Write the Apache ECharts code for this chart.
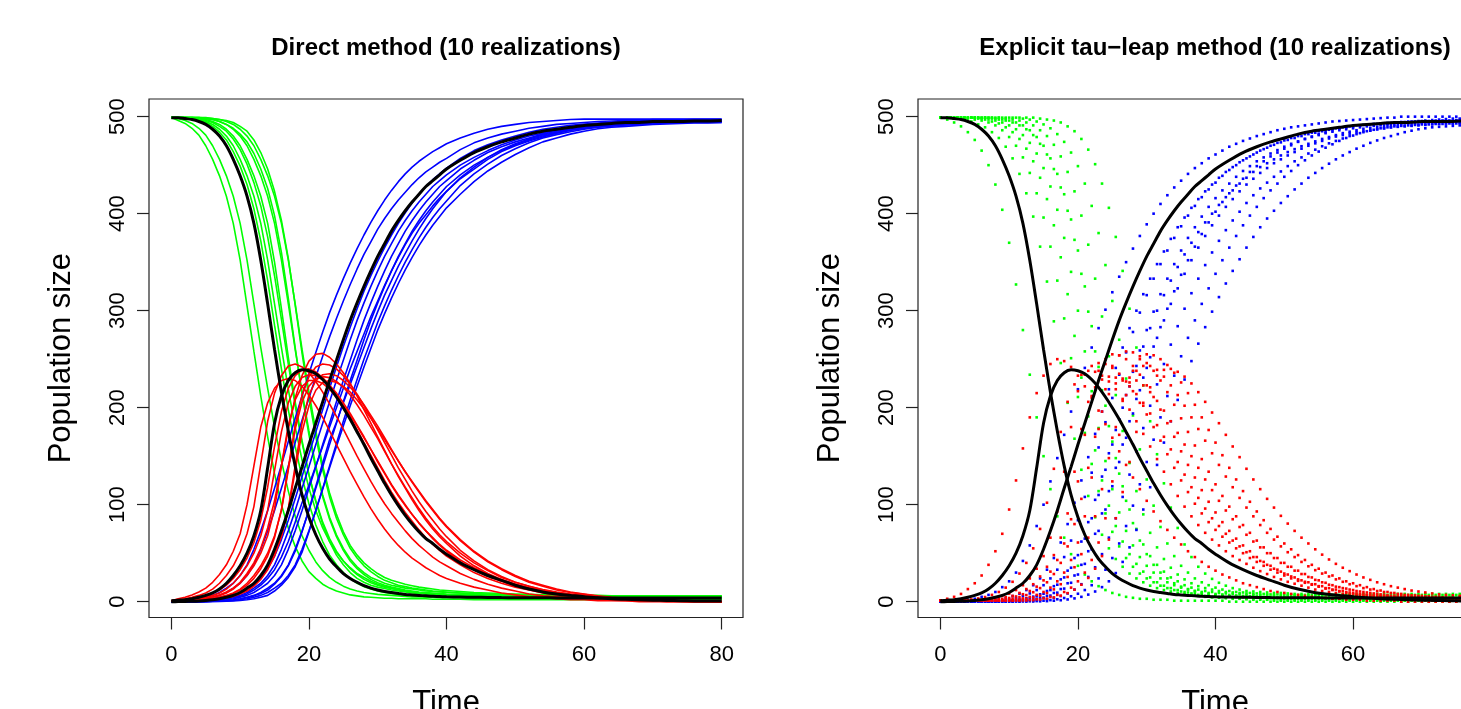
<!DOCTYPE html>
<html><head><meta charset="utf-8">
<script src="https://cdn.jsdelivr.net/npm/echarts@6/dist/echarts.min.js"></script>
<style>html,body{margin:0;padding:0;background:#fff}#c{width:1461px;height:709px}</style>
</head><body><div id="c"></div>
<script>
// ---------------- data ----------------
const xTicks = [0, 20, 40, 60, 80];
const yTicks = [0, 100, 200, 300, 400, 500];
const titles = ['Direct method (10 realizations)', 'Explicit tau\u2212leap method (10 realizations)'];

const directTimes = [0,1,2,3,4,5,6,7,8,9, 10,11,12,13,14,15,16,17,18,19, 20,21,22,23,24,25,26,27,28,29, 30,31,32,33,34,35,36,37,38,39, 40, 42,44,46,48,50,52,54,56,58,60, 62,64,66,68,70,72,74,76,78,80];

// deterministic (black) curves on directTimes
const detS = [499,499,498,497,495,492,487,480,470,456, 439,418,390,352,307,260,216,176,140,110, 87,69,55,44,36,29,24,20,16.5,14, 12,10.5,9.5,8.5,7.5,7,6.5,6,5.5,5.3, 5, 4.8,4.6,4.4,4.2,4.1,4,4,3.9,3.9,3.8, 3.8,3.8,3.7,3.7,3.7,3.7,3.7,3.7,3.7,3.7];
const detI = [1,1.5,2,3,4.5,6.5,9,13,19,27, 37,50,68,94,138,184,212,228,236,239, 238,235,229,221,211,200,188,175,162,148, 135,122,110,99,89,80,72,65,60,54, 49, 40,33,27,22,17,13,10,8,6.5,5, 4,3,2.5,2,1.6,1.3,1,0.8,0.7,0.6];
const detR = [0,0.1,0.3,0.5,0.8,1.3,2,3,4.5,6.5, 9.5,14,19,27,38,54,73,94,117,139, 162,184,206,228,249,270,290,308,325,341, 356,369,382,393,403,412,420,428,434,440, 446, 455,463,469,474,478,482,485,487,489,491, 492,493,494,494,495,495,495,495.5,495.5,496];

// direct method realizations (values on directTimes)
const directS = [
 [499,496,493,488,481,470,456,439,418,390, 352,305,258,212,170,132,100,76,57,42, 31,24,18,14,11,9,7,6,5,4.5, 4,3.5,3.5,3,3,3,3,3,2.5,2.5, 2.5, 2.5,2,2,2,2,2,2,2,2,2, 2,2,2,2,2,2,2,2,2,2],
 [499,498,496,493,488,481,470,456,439,418, 390,352,307,262,220,180,145,114,88,68, 53,41,32,25,20,16,13,11,9.5,8.5, 7.5,7,6.5,6,5.5,5,5,4.5,4.5,4, 4, 4,3.5,3.5,3.5,3,3,3,3,3,3, 3,3,3,3,3,3,3,3,3,3],
 [499,499,499,498,497,495,492,487,480,470, 456,439,418,390,352,307,262,219,180,146, 117,94,76,62,51,42,35,29,25,21, 18,16,14,12.5,11,10,9,8.5,8,7.5, 7, 6.5,6,6,5.5,5.5,5,5,5,5,5, 5,5,5,5,5,5,5,5,5,5],
 [499,499,499,499,498,497,495,492,487,480, 470,456,439,418,390,350,302,252,206,166, 131,103,80,62,48,38,30,24,20,17, 15,13.5,12,11,10,9,8.5,8,7.5,7, 6.5, 6,5.5,5,5,4.5,4.5,4.5,4,4,4, 4,4,4,4,4,4,4,4,4,4],
 [499,499,499,498.5,498,496,494,490,485,477, 466,451,432,408,376,336,291,245,202,164, 131,104,82,65,52,42,34,28,23,19.5, 17,15,13.5,12,11,10,9,8.5,8,7.5, 7, 6.5,6,5.5,5.5,5,5,5,5,4.5,4.5, 4.5,4.5,4.5,4.5,4.5,4.5,4.5,4.5,4.5,4.5],
 [499,499,499,499,499,498,497,495,492,487, 480,470,456,439,418,390,352,307,260,216, 176,140,110,87,69,55,44,36,30,25, 22,19,17,15.5,14,13,12,11,10.5,10, 9.5, 9,8,7.5,7,6.5,6,6,5.5,5.5,5.5, 5,5,5,5,5,5,5,5,5,5],
 [499,499,499,499,498.5,498,497,495,492,488, 482,474,462,446,426,398,360,313,262,214, 172,137,108,85,67,53,42,34,28,23, 19.5,17,15,13.5,12,11,10,9.5,9,8.5, 8, 7.5,7,6.5,6,6,5.5,5.5,5,5,5, 5,5,5,5,5,5,5,5,5,5],
 [499,499,499,499,499,499,498,497,495,492, 487,480,470,456,439,418,390,352,307,260, 216,176,140,112,90,72,58,48,40,34, 29,25,22,20,18,16.5,15,14,13,12, 11.5, 10.5,9.5,9,8.5,8,7.5,7,7,6.5,6.5, 6.5,6,6,6,6,6,6,6,6,6],
 [499,499,499,499,499,498.5,498,497,496,494, 490,485,476,463,446,423,393,354,306,256, 210,170,136,108,86,69,55,45,37,31, 26,22,19.5,17,15.5,14,13,12,11,10.5, 10, 9,8.5,8,7.5,7,7,6.5,6.5,6,6, 6,6,6,6,6,6,6,6,6,6],
 [499,499,498.5,498,496,494,490,484,476,464, 449,430,405,372,331,285,240,198,160,128, 101,79,62,48,38,30,24,19,15.5,13, 11,9.5,8.5,7.5,7,6.5,6,5.5,5,5, 4.5, 4.5,4,4,4,3.5,3.5,3.5,3.5,3,3, 3,3,3,3,3,3,3,3,3,3]
];
const directI = [
 [1,3,4.5,7,10,14,20,28,38,52, 70,100,140,180,205,220,228,230,228,222, 213,202,190,176,162,148,134,121,108,96, 85,75,66,58,51,45,40,35,31,27, 24, 19,15,12,9,7,5,4,3,2,2, 1,1,1,0,0,0,0,0,0,0],
 [1,2,3,4.5,6.5,9,13,19,27,37, 51,70,98,142,186,215,233,243,245,242, 236,227,216,204,191,178,164,150,137,124, 112,101,91,82,73,65,58,52,46,41, 37, 29,23,18,14,11,8,6,5,4,3, 2,1.5,1,1,1,0,0,0,0,0],
 [1,1,1.5,2,3,4.5,6.5,9,13,19, 27,37,50,68,94,135,175,205,222,231, 234,233,229,223,215,205,194,182,170,157, 144,132,120,109,99,90,81,73,66,59, 53, 43,35,28,22,18,14,11,8.5,6.5,5, 4,3,2,1.5,1,1,0.5,0,0,0],
 [1,1,1,1.5,2,3,4.5,6.5,9,13, 19,27,37,50,68,96,140,182,208,222, 228,228,225,219,211,202,192,181,169,157, 145,133,121,110,100,90,81,73,65,58, 52, 41,33,26,21,16,13,10,8,6,4.5, 3.5,2.5,2,1.5,1,1,0.5,0,0,0],
 [1,1,1.5,2,2.5,3.5,5,7,10,14, 20,29,40,55,76,104,140,178,210,233, 248,255,256,252,245,236,225,212,198,184, 170,156,142,129,117,105,94,84,75,67, 60, 47,37,29,23,18,14,11,8.5,6.5,5, 4,3,2,1.5,1,1,0.5,0.5,0,0],
 [1,1,1,1,1.5,2,3,4.5,6.5,9, 13,19,27,37,50,68,94,136,178,206, 222,230,232,231,227,221,213,203,192,180, 168,155,142,130,118,107,96,86,77,69, 62, 50,40,32,25,20,16,12,9.5,7.5,6, 4.5,3.5,2.5,2,1.5,1,1,0.5,0.5,0],
 [1,1,1,1.5,2,2.5,3,4.5,6,8.5, 12,17,24,34,47,66,95,138,182,213, 232,242,245,244,240,233,224,214,202,190, 177,164,151,138,126,114,103,93,84,75, 67, 53,42,33,26,20,16,12.5,10,8,6, 4.5,3.5,2.5,2,1.5,1,1,0.5,0.5,0],
 [1,1,1,1,1,1.5,2,3,4.5,6.5, 9,13,19,27,37,50,68,94,135,175, 202,218,226,228,226,222,216,208,199,189, 178,167,156,145,134,124,114,104,95,86, 78, 64,52,42,34,27,21,17,13,10,8, 6,4.5,3.5,2.5,2,1.5,1,1,0.5,0.5],
 [1,1,1,1,1.5,2,2.5,3,4,5.5, 8,11,16,23,33,47,67,96,140,184, 213,228,234,235,233,228,221,213,203,192, 181,169,157,145,134,123,113,103,94,85, 77, 63,51,41,33,26,20,16,12,9.5,7.5, 5.5,4,3,2.5,2,1.5,1,1,0.5,0.5],
 [1,1.5,2,3,4,6,8.5,12,17,24, 33,45,61,84,118,160,196,220,233,239, 240,237,231,223,213,202,190,177,164,151, 138,125,113,102,92,83,74,66,59,53, 47, 38,30,24,19,15,12,9,7,5.5,4, 3,2.5,2,1.5,1,1,0.5,0,0,0]
];
const directR = [
 [0,0.5,1.3,2,3,4.5,6.5,9.5,14,19, 27,38,54,73,94,117,141,165,189,212, 235,257,278,298,316,333,349,364,378,391, 403,414,424,433,441,448,454,459,464,468, 472, 478,483,487,490,492,494,495,496,497,497.5, 497.5,497.5,497.5,497.5,497.5,497.5,497.5,497.5,497.5,497.5],
 [0,0.3,0.8,1.3,2,3,4.5,6.5,9.5,14, 19,27,38,54,73,94,117,140,164,187, 210,232,253,273,292,310,327,343,358,371, 384,395,405,414,422,430,437,443,448,453, 457, 466,473,478,482,485,488,490,492,493,494, 495,495.5,496,496,497,497,497,497,497,497],
 [0,0,0.1,0.3,0.5,0.8,1.3,2,3,4.5, 6.5,9.5,14,19,27,38,54,73,94,117, 139,162,184,206,228,249,270,290,308,325, 341,356,369,382,393,403,412,420,428,434, 440, 450,458,465,471,476,480,483,486,488,490, 491,492,493,493.5,494,494.5,495,495,495,495],
 [0,0,0,0.1,0.3,0.5,0.8,1.3,2,3, 4.5,6.5,9.5,14,19,27,38,54,73,94, 117,139,162,184,206,228,249,270,290,308, 325,341,356,369,382,393,403,412,420,428, 434, 446,455,463,469,474,478,482,485,487,489, 491,492,493,494,494.5,495,495.5,496,496,496],
 [0,0,0,0.2,0.4,0.6,1,1.6,2.5,4, 5.5,8,12,17,24,33,46,62,82,102, 120,140,160,180,200,220,240,258,276,294, 310,326,341,355,368,380,390,399,408,416, 423, 436,446,456,464,470,475,479,483,486,488, 490,491,492.5,493.5,494,494.5,495,495,495.5,495.5],
 [0,0,0,0,0.1,0.3,0.5,0.8,1.3,2, 3,4.5,6.5,9.5,14,19,27,38,54,73, 94,117,139,162,184,206,228,249,270,290, 308,325,341,356,369,382,393,403,412,420, 428, 440,450,458,465,471,476,480,483,486,488, 489.5,490.5,491.5,492.5,493,493.5,494,494.5,494.5,495],
 [0,0,0,0,0.1,0.3,0.5,0.8,1.2,1.8, 2.7,4,6,8.5,12,18,26,37,52,72, 95,119,143,167,185,205,224,243,262,281, 299,316,331,346,359,372,384,395,405,414, 423, 437,448,458,466,472,477,481,484,487,489, 490.5,491.5,492.5,493,493.5,494,494.5,495,495,495],
 [0,0,0,0,0,0.1,0.3,0.5,0.8,1.3, 2,3,4.5,6.5,9.5,14,19,27,38,54, 73,94,116,138,160,181,202,222,242,261, 280,297,313,328,342,355,367,378,388,397, 406, 420,433,444,453,461,468,474,478,482,485, 487.5,489,490,491,492,492.5,493,493.5,493.5,494],
 [0,0,0,0,0,0.1,0.2,0.3,0.5,0.8, 1.2,2,3,4.5,6.5,11,17,25,36,51, 72,94,117,140,163,186,208,229,250,269, 288,305,321,336,350,363,375,386,396,405, 413, 429,441,451,460,467,473,478,481.5,484.5,487, 489,490.5,491.5,492.5,493,493.5,494,494,494,494],
 [0,0.1,0.2,0.4,0.7,1.1,1.7,2.6,4,6, 8.5,12,17,24,34,47,64,84,106,129, 152,175,198,220,242,263,283,302,320,336, 351,365,378,390,401,411,420,428,435,441, 447, 457,465,471,476,480,484,487,489,491,492.5, 493.5,494.5,495,495.5,496,496,496.5,497,497,497]
];

// explicit tau-leap realizations: two time grids (realizations alternate)
const tauTimesA = [0,1,2,3,4,5,6,7,8,9, 10,11,12,13,14,15,16,17,18,19, 20,21,22,23,24,25,26,27,28,29, 30,31,32,33,34,35,36,37,38,39, 40,41,42,43,44,45,46,47,48,49, 50,51,52,53,54,55,56,57,58,59, 60,61,62,63,64,65,66,67,68,69, 70,71,72,73,74,75,76,77,78,79, 80];
const tauTimesB = [0,1.5,2.5,3.5,4.5,5.5,6.5,7.5,8.5,9.5, 10.5,11.5,12.5,13.5,14.5,15.5,16.5,17.5,18.5,19.5, 20.5,21.5,22.5,23.5,24.5,25.5,26.5,27.5,28.5,29.5, 30.5,31.5,32.5,33.5,34.5,35.5,36.5,37.5,38.5,39.5, 40.5,41.5,42.5,43.5,44.5,45.5,46.5,47.5,48.5,49.5, 50.5,51.5,52.5,53.5,54.5,55.5,56.5,57.5,58.5,59.5, 60.5,61.5,62.5,63.5,64.5,65.5,66.5,67.5,68.5,69.5, 70.5,71.5,72.5,73.5,74.5,75.5,76.5,77.5,78.5,79.5, 80.5];

const tauS = [
 [499,497,494,490,484,476,465,450,430,404, 370,327,280,234,190,150,116,88,66,49, 37,28,21,16,12,9,7,5,4,3, 3,2,2,2,1,1,1,1,1,1, 1,1,0,0,0,0,0,0,0,0, 0,0,0,0,0,0,0,0,0,0, 0,0,0,0,0,0,0,0,0,0, 0,0,0,0,0,0,0,0,0,0, 0],
 [499,499,498,497,495,492,489,484,478,469, 457,441,421,397,366,330,289,246,205,168, 136,109,87,69,55,44,36,29,24,20, 16.5,14,12,10.5,9,8,7,6,5,4.5, 4,3.5,3,3,2.5,2,2,2,1,1, 1,1,1,1,1,1,1,1,1,1, 1,1,1,1,1,1,1,1,1,1, 1,1,1,1,1,1,1,1,1,1, 1],
 [499,499,499,499,498,497,496,494,491,486, 479,470,458,442,421,396,366,331,292,251, 211,174,142,114,91,72,57,45,36,29, 24,20,16.5,14,12,10.5,9.5,8.5,7.5,7, 6.5,6,5.5,5.3,5,4.8,4.6,4.4,4.2,4, 4,4,4,4,4,4,3,3,3,3, 3,3,3,3,3,3,3,3,3,3, 3,3,3,3,3,3,3,3,3,3, 3],
 [499,499,499,499,499,498,497,495,493,489, 484,477,467,454,437,415,388,355,317,274, 231,191,156,125,99,78,62,49,39,31, 25,20,16.5,14,12,10,8.5,7,6,5, 5,4.5,4,3.5,3,3,3,2.5,2.5,2, 2,2,2,2,2,2,2,2,2,2, 2,2,2,2,2,2,2,2,2,2, 2,2,2,2,2,2,2,2,2,2, 2],
 [499,499,499,499,499,499,498,497,496,494, 491,487,481,473,462,447,428,404,375,340, 300,258,217,179,145,116,92,73,58,46, 37,30,24,20,17,14.5,12.5,11,10,9, 8,7.5,7,6.5,6,5.5,5.5,5,5,4.5, 4.5,4.5,4.5,4.5,4.5,4.5,4,4,4,4, 4,4,4,4,4,4,4,4,4,4, 4,4,4,4,4,4,4,4,4,4, 4],
 [499,499,499,499,499,499,499,498,497,496, 494,491,487,481,472,461,446,427,403,373, 338,299,258,218,181,148,119,95,75,59, 47,38,31,25,21,17,14.5,12.5,11,10, 9,8.5,8,7.5,7,7,6.5,6.5,6,6, 5.5,5.5,5.5,5.5,5.5,5.5,5.5,5.5,5.5,5.5, 5.5,5,5,5,5,5,5,5,5,5, 5,5,5,5,5,5,5,5,5,5, 5],
 [499,499,499,499,499,499,499,499,498,497, 496,494,491,486,479,470,457,441,420,394, 362,325,284,242,202,165,132,104,81,63, 49,38,30,24,19,15.5,13,11,9,8, 7,6,5.5,5,4.5,4.5,4,4,3.5,3.5, 3,3,3,3,3,3,3,3,3,3, 3,3,3,3,3,3,3,3,3,3, 3,3,3,3,3,3,3,3,3,3, 3],
 [499,499,499,499,499,499,499,499,499,498, 497,496,494,491,486,480,471,459,443,423, 398,368,333,294,253,213,176,143,114,90, 71,56,44,35,28,23,19,16,14,12.5, 11,10,9.5,9,8.5,8,7.5,7.5,7,7, 6.5,6.5,6.5,6.5,6.5,6.5,6.5,6.5,6.5,6.5, 6.5,6,6,6,6,6,6,6,6,6, 6,6,6,6,6,6,6,6,6,6, 6],
 [499,499,499,499,499,499,499,499,499,499, 499,499,498,497,495,492,488,482,474,463, 449,431,408,380,347,310,270,230,192,157, 126,99,77,60,47,37,30,24,20,17, 14.5,12.5,11,10,9.5,9,8.5,8,7.5,7.5, 7,7,7,7,7,7,7,7,7,7, 7,7,7,7,7,7,7,7,7,7, 7,7,7,7,7,7,7,7,7,7, 7],
 [499,499,499,499,499,499,499,499,499,499, 499,499,499,499,498,497,496,494,490,485, 477,466,451,431,406,376,341,302,262,223, 186,152,122,97,76,59,46,36,29,23.5, 19.5,16.5,14,12.5,11,10.5,10,9.5,9,9, 8.5,8,8,8,8,8,8,8,8,8, 8,8,8,8,8,8,8,8,8,8, 8,8,8,8,8,8,8,8,8,8, 8]
];
const tauI = [
 [1,3,5,8,13,19,27,38,52,70, 95,125,158,190,215,233,245,250,248,242, 233,222,210,197,183,169,155,141,128,116, 104,93,83,74,66,59,52,46,41,36, 32,28,25,22,19,17,15,13,11,10, 9,8,7,6,5,4,4,3,3,2, 2,2,1,1,1,1,1,0,0,0, 0,0,0,0,0,0,0,0,0,0, 0],
 [1,1,1.2,1.6,2.3,3.3,4.8,7,10,14.5, 20.5,29,40,55,75,102,137,175,206,224, 234,238,237,233,227,219,209,198,186,173, 160,147,134,121,109,98,88,79,71,64, 58,52,47,43,39,35,31.5,28.5,25.5,23, 20.5,18.5,16.5,14.5,12.5,11,10,9,8,7, 6.5,5.5,5,4.5,4,3.5,3,2.5,2,2, 1.5,1.5,1,1,1,1,0.5,0.5,0,0, 0],
 [1,1,1,1,1.1,1.4,2,2.8,4,5.8, 8.3,12,17,24,34,47,66,93,134,180, 217,234,243,246,245,241,235,227,217,205, 193,180,166,152,138,125,113,101,91,82, 74,67,61,55,50,45,41,37,33,30, 27,24,21.5,19.5,17.5,15.5,13.5,12,10.5,9, 8,7,6.5,6,5.5,5,4.5,4,3.5,3, 2.5,2.5,2,2,1.5,1.5,1,1,1,1, 0.5],
 [1,1,1,1,1,1,1.5,2,3,4.5, 6,9,13,18,26,36,48,66,91,134, 178,206,221,229,232,231,228,222,214,205, 194,182,170,157,144,131,118,107,96,86, 78,70,63,57,51,46,42,38,34,31, 28,25,22,20,18,16,14,12.5,11,9.5, 8.5,7.5,6.5,6,5.5,5,4.5,4,3.5,3, 2.5,2,2,1.5,1.5,1,1,1,0.5,0.5, 0.5],
 [1,1,1,1,1,1,1.1,1.4,1.9,2.7, 3.8,5.4,7.7,11,15.5,22,31,43,60,85, 124,172,212,238,250,255,254,250,243,234, 223,211,198,184,170,155,141,128,115,103, 92,82,73,65,58,52,46,41,37,33, 29,26,23,20.5,18,16,14,12.5,11,10, 9,8,7,6,5.5,5,4.5,4,3.5,3, 2.5,2.5,2,2,1.5,1.5,1,1,1,1, 0.5],
 [1,1,1,1,1,1,1,1.2,1.6,2.2, 3.2,4.7,6.8,9.8,14,20,28.5,40,57,80, 106,138,170,196,214,225,230,231,228,223, 216,207,197,186,174,162,150,138,126,115, 104,94,85,77,69,62,56,50,45,40, 36,32,28.5,25.5,22.5,20,17.5,15.5,14,12.5, 11,10,9,8,7,6,5.5,5,4.5,4, 3.5,3,2.5,2.5,2,2,1.5,1.5,1,1, 1],
 [1,1,1,1,1,1,1,1,1.1,1.3, 1.7,2.4,3.4,4.9,7,10,14.5,21,30,43, 61,88,128,178,219,243,254,258,257,253, 246,238,228,216,203,189,175,161,147,134, 121,109,98,88,79,71,63,56,50,45, 40,36,32,28.5,25,22,19.5,17,15,13.5, 12,10.5,9.5,8.5,7.5,6.5,6,5.5,5,4.5, 4,3.5,3,3,2.5,2.5,2,2,1.5,1.5, 1],
 [1,1,1,1,1,1,1,1,1,1.2, 1.5,2.1,3,4.3,6.2,8.9,12.7,18,25.5,35.5, 49,66,88,116,148,180,207,226,238,243, 243,239,232,223,213,202,190,178,166,153, 141,129,118,107,97,88,79,71,64,57, 51,46,41,36.5,32.5,29,26,23,20.5,18, 16,14,12.5,11,10,9,8,7,6.5,6, 5.5,5,4.5,4,3.5,3,2.5,2.5,2,2, 1.5],
 [1,1,1,1,1,1,1,1,1,1, 1,1.1,1.3,1.7,2.4,3.4,4.9,7,10,14.5, 21,30,43,61,86,124,172,213,238,250, 255,254,250,244,236,226,215,203,190,177, 164,151,138,126,114,103,93,84,75,67, 60,54,48,43,38,34,30,27,24,21, 19,17,15,13,11.5,10,9,8,7,6.5, 6,5.5,5,4.5,4,3.5,3,3,2.5,2.5, 2],
 [1,1,1,1,1,1,1,1,1,1, 1,1,1.2,1.6,2.2,3.1,4.4,6.2,8.8,12.4, 17.5,24.5,34,47,64,86,113,144,175,202, 221,233,239,240,237,232,225,216,206,195, 184,172,160,149,137,126,116,106,97,88.5, 80.5,73,66,60,54,48.5,43.5,39,35,31.5, 28,25,22.5,20,18,16,14.5,13,11.5,10.5, 9.5,8.5,7.5,7,6.5,6,5.5,5,4.5,4, 3.5]
];
const tauR = [
 [0,0.2,0.5,1,2,3,5,7,10,15, 21,30,42,58,78,100,124,148,172,196, 219,241,262,282,301,319,335,350,364,377, 389,400,410,419,427,434,441,447,452,457, 461,465,469,472,475,477.5,480,482,484,486, 487.5,489,490,491,492,493,494,495,495.5,496, 496.5,497,497.5,498,498.5,499,499,500,500,500, 500,500,500,500,500,500,500,500,500,500, 500],
 [0,0,0,0.2,0.4,0.7,1.1,1.7,2.6,3.9, 5.7,8.2,12,17,24,33,45,61,80,102, 125,149,173,196,219,241,262,282,300,317, 333,348,361,374,386,396,406,415,423,430, 437,443,448,453,457,461,465,468,471,473.5, 476,478,480,482,483.5,485,486.5,488,489,490, 491,491.5,492,492.5,493,493.5,494,494.5,495,495.5, 496,496.5,497,497.5,498,498,498.5,498.5,499,499, 499],
 [0,0,0,0,0.1,0.2,0.4,0.7,1.1,1.7, 2.6,3.9,5.8,8.5,12,17,24,33,46,63, 84,108,133,159,185,210,234,257,278,298, 316,333,348,362,375,387,398,408,417,425, 432,439,445,450,455,459,463,466.5,470,473, 475.5,478,480,482,483.5,485,486.5,487.5,488.5,489.5, 490.5,491,491.5,492,492.5,493,493.5,494,494,494.5, 494.5,495,495,495.5,495.5,496,496,496,496.5,496.5, 496.5],
 [0,0,0,0,0,0.1,0.2,0.4,0.6,1, 1.5,2.3,3.5,5.2,7.6,11,16,23,32,45, 62,82,105,129,153,177,200,222,243,263, 282,300,316,331,345,358,370,381,391,400, 409,417,424,431,437,443,448,452,456,460, 463.5,466.5,469.5,472,474.5,477,479,481,483,484.5, 486,487.5,488.5,489.5,490.5,491.5,492.5,493,493.5,494, 494.5,495,495.5,496,496,496.5,496.5,497,497,497.5, 497.5],
 [0,0,0,0,0,0,0.1,0.2,0.4,0.6, 1,1.6,2.5,3.8,5.6,8.2,12,17.5,25,35, 48,65,86,110,136,162,188,213,237,259, 280,299,317,333,348,362,375,386,397,407, 416,424,431,438,444,449,454,458,462,465.5, 469,472,474.5,477,479,481,483,484.5,486,487, 488,489,490,490.5,491,491.5,492,492.5,493,493, 493.5,494,494,494.5,494.5,495,495,495,495.5,495.5, 495.5],
 [0,0,0,0,0,0,0,0.1,0.2,0.4, 0.7,1.1,1.7,2.6,4,6,9,13,19,27, 38,52,70,91,114,138,162,186,209,231, 252,272,290,307,323,338,352,365,377,388, 398,407,415,423,430,436,442,447,452,456, 460,463.5,467,470,472.5,475,477.5,479.5,481,482.5, 484,485,486,487,488,489,489.5,490,490.5,491, 491.5,492,492.5,493,493,493.5,493.5,494,494,494, 494],
 [0,0,0,0,0,0,0,0,0.1,0.2, 0.4,0.7,1.1,1.8,2.8,4.2,6.3,9.3,13.5,19.5, 28,39,54,73,95,119,144,169,194,218, 241,263,283,302,320,337,352,366,379,391, 402,412,421,429,436,443,449,454,459,463, 467,470.5,474,477,479.5,482,484,486,487.5,489, 490,491,492,492.5,493,493.5,494,494.5,495,495, 495.5,495.5,496,496,496,496.5,496.5,496.5,496.5,496.5, 496.5],
 [0,0,0,0,0,0,0,0,0,0.1, 0.2,0.4,0.7,1.1,1.7,2.6,3.9,5.8,8.5,12.5, 18,25.5,35.5,49,66,86,108,131,155,179, 202,224,245,265,284,302,318,333,347,360, 372,383,393,402,411,419,426,432,438,443.5, 449,454,458,462,466,469.5,472.5,475,477.5,480, 482,484,485.5,487,488,489,490,490.5,491,491.5, 492,492.5,492.5,493,493,493.5,493.5,494,494,494, 494],
 [0,0,0,0,0,0,0,0,0,0, 0,0.1,0.2,0.4,0.6,1,1.6,2.5,3.8,5.6, 8.2,12,17,24,33,45,60,78,99,121, 144,167,190,212,233,253,272,290,307,323, 338,352,365,377,388,398,407,416,424,431, 438,444,450,455,460,464,468,471.5,475,478, 480.5,483,485,486.5,488,489,490,490.5,491,491.5, 492,492,492.5,492.5,493,493,493,493,493,493, 493],
 [0,0,0,0,0,0,0,0,0,0, 0,0,0.1,0.2,0.4,0.6,1,1.5,2.3,3.4, 5,7.3,10.5,15,21,29.5,41,56,74,95, 118,141,164,186,208,229,248,266,283,299, 314,328,341,353,365,376,386,395,403,411, 418,425,431,437,442,447,451.5,456,460,463.5, 467,470,473,475.5,478,480,482,484,485.5,487, 488,489,489.5,490,490.5,491,491,491.5,491.5,492, 492]
];

// ---------------- chart ----------------
const FONT = '"Liberation Sans", Arial, Helvetica, sans-serif';
const GREEN = '#00ff00', RED = '#ff0000', BLUE = '#0000ff', BLACK = '#000000';
const problems = [];
function pairs(times, vals, name) {
  if (times.length !== vals.length) problems.push(name + ' ' + vals.length + '/' + times.length);
  return times.map((t, i) => [t, vals[i]]);
}

const grids = [
  {left: 149, top: 99, width: 594, height: 518.5},
  {left: 918, top: 99, width: 594, height: 518.5}
].map(g => Object.assign(g, {show: true, borderColor: '#222', borderWidth: 1.2, backgroundColor: 'transparent', containLabel: false, outerBoundsMode: 'none'}));

function xAxisCfg(gi) {
  return {type: 'value', gridIndex: gi, min: -3.25, max: 83.1, position: 'bottom',
    axisLine: {show: false, onZero: false},
    axisTick: {show: true, inside: false, length: 12, customValues: xTicks, lineStyle: {color: '#222', width: 1.2}},
    axisLabel: {show: true, customValues: xTicks, margin: 26, fontSize: 22, color: '#000', fontFamily: FONT},
    splitLine: {show: false},
    name: 'Time', nameLocation: 'middle', nameGap: 70,
    nameTextStyle: {fontSize: 31, color: '#000', fontFamily: FONT}};
}
function yAxisCfg(gi) {
  return {type: 'value', gridIndex: gi, min: -16.3, max: 518.2, position: 'left',
    axisLine: {show: false, onZero: false},
    axisTick: {show: true, inside: false, length: 12, customValues: yTicks, lineStyle: {color: '#222', width: 1.2}},
    axisLabel: {show: true, customValues: yTicks, rotate: 90, margin: 20, fontSize: 22, color: '#000', fontFamily: FONT},
    splitLine: {show: false},
    name: 'Population size', nameLocation: 'middle', nameGap: 72, nameRotate: 90,
    nameTextStyle: {fontSize: 31, color: '#000', fontFamily: FONT}};
}

const series = [];
// Direct method: lines
[[directS, GREEN, 'dS'], [directR, BLUE, 'dR'], [directI, RED, 'dI']].forEach(([arr, col, nm]) => {
  arr.forEach((vals, k) => series.push({type: 'line', xAxisIndex: 0, yAxisIndex: 0, silent: true,
    showSymbol: false, symbol: 'none', data: pairs(directTimes, vals, nm + k),
    lineStyle: {color: col, width: 1.6}}));
});
// Tau-leap: dots
[[tauS, GREEN, 'tS'], [tauR, BLUE, 'tR'], [tauI, RED, 'tI']].forEach(([arr, col, nm]) => {
  arr.forEach((vals, k) => series.push({type: 'scatter', xAxisIndex: 1, yAxisIndex: 1, silent: true,
    symbol: 'rect', symbolSize: 2.6, data: pairs(k % 2 ? tauTimesB : tauTimesA, vals, nm + k),
    itemStyle: {color: col, opacity: 1}}));
});
// deterministic curves on both panels
[0, 1].forEach(p => {
  [[detS, 'S'], [detI, 'I'], [detR, 'R']].forEach(([vals, nm]) => series.push({type: 'line', xAxisIndex: p, yAxisIndex: p, silent: true,
    showSymbol: false, symbol: 'none', smooth: 0.3, data: pairs(directTimes, vals, 'det' + nm),
    lineStyle: {color: BLACK, width: 3}}));
});

const chart = echarts.init(document.getElementById('c'), null, {renderer: 'canvas', width: 1461, height: 709});
chart.setOption({
  backgroundColor: '#ffffff',
  animation: false,
  grid: grids,
  xAxis: [xAxisCfg(0), xAxisCfg(1)],
  yAxis: [yAxisCfg(0), yAxisCfg(1)],
  graphic: [
    {type: 'text', x: 446, y: 48, silent: true, style: {text: titles[0], font: 'bold 24px ' + FONT, fill: '#000', align: 'center', verticalAlign: 'middle'}},
    {type: 'text', x: 1215, y: 48, silent: true, style: {text: titles[1], font: 'bold 24px ' + FONT, fill: '#000', align: 'center', verticalAlign: 'middle'}}
  ],
  series: series
});
if (problems.length) throw new Error('Length mismatch: ' + problems.join(', '));
</script>
</body></html>
